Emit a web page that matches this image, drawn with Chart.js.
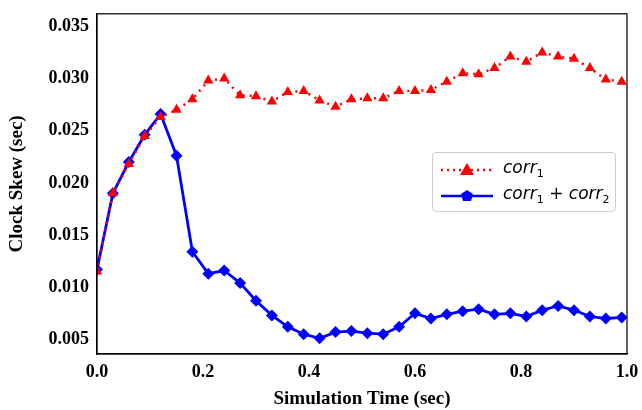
<!DOCTYPE html>
<html>
<head>
<script src="https://cdn.jsdelivr.net/npm/chart.js"></script>
<style>
  body { margin: 0; background: #fff; }
  #wrap { position: relative; width: 642px; height: 410px; }
  #legend { position: absolute; left: 432px; top: 152px; width: 184px; height: 60px; border: 1px solid #ccc; border-radius: 4px; background: rgba(255,255,255,0.8); font-family: "DejaVu Sans", sans-serif; font-style: italic; font-size: 17px; box-sizing: border-box; }
  .row { position: absolute; left: 70px; }
  .row sub { font-size: 11px; font-style: normal; }
</style>
</head>
<body>
<div id="wrap">
  <canvas id="chart" width="642" height="410"></canvas>
  <div id="legend">
    <svg style="position:absolute;left:6px;top:4px" width="60" height="52">
      <line x1="2" y1="13" x2="54" y2="13" stroke="red" stroke-width="2.5" stroke-dasharray="2,4"/>
      <polygon points="28,6 35,18 21,18" fill="red"/>
      <line x1="2" y1="39" x2="54" y2="39" stroke="blue" stroke-width="2.5"/>
      <polygon points="28,33 34,37 32,44 24,44 22,37" fill="blue"/>
    </svg>
    <div class="row" style="top:4px">corr<sub>1</sub></div>
    <div class="row" style="top:30px">corr<sub>1</sub> + corr<sub>2</sub></div>
  </div>
</div>
<script>
// simulation time (sec)
const times = [0.00, 0.03, 0.06, 0.09, 0.12, 0.15, 0.18, 0.21, 0.24, 0.27, 0.30, 0.33,
               0.36, 0.39, 0.42, 0.45, 0.48, 0.51, 0.54, 0.57, 0.60, 0.63, 0.66, 0.69,
               0.72, 0.75, 0.78, 0.81, 0.84, 0.87, 0.90, 0.93, 0.96, 0.99];
const corr1 = [0.0115, 0.0190, 0.0218, 0.0245, 0.0263, 0.0270, 0.0280, 0.0298, 0.0300, 0.0284, 0.0283, 0.0278,
               0.0287, 0.0288, 0.0279, 0.0273, 0.0280, 0.0281, 0.0281, 0.0288, 0.0288, 0.0289, 0.0297, 0.0305,
               0.0304, 0.0310, 0.0321, 0.0316, 0.0325, 0.0321, 0.0319, 0.0310, 0.0299, 0.0297];
const corr12 = [0.0117, 0.0190, 0.0220, 0.0246, 0.0266, 0.0226, 0.0134, 0.0113, 0.0116, 0.0104, 0.0087, 0.0073,
                0.0062, 0.0055, 0.0051, 0.0057, 0.0058, 0.0056, 0.0055, 0.0062, 0.0075, 0.0070, 0.0074, 0.0077,
                0.0079, 0.0074, 0.0075, 0.0072, 0.0078, 0.0082, 0.0078, 0.0072, 0.0070, 0.0071];
const xTicks = [0.0, 0.2, 0.4, 0.6, 0.8, 1.0];
const yTicks = [0.005, 0.010, 0.015, 0.020, 0.025, 0.030, 0.035];

const font = { family: '"Liberation Serif", serif', weight: 'bold', size: 18 };

new Chart(document.getElementById('chart'), {
    type: 'line',
    data: {
        datasets: [
            { label: 'corr1', data: times.map((t, i) => ({ x: t, y: corr1[i] })),
              borderColor: 'red', backgroundColor: 'red', borderWidth: 2.5, borderDash: [2, 5],
              pointStyle: 'triangle', pointRadius: 6, pointBorderWidth: 0 },
            { label: 'corr1 + corr2', data: times.map((t, i) => ({ x: t, y: corr12[i] })),
              borderColor: 'blue', backgroundColor: 'blue', borderWidth: 2.8,
              pointStyle: 'rectRot', pointRadius: 6, pointBorderWidth: 0 }
        ]
    },
    options: {
        responsive: false,
        animation: false,
        layout: { padding: { top: 10, right: 15, left: 6 } },
        plugins: { legend: { display: false }, tooltip: { enabled: false } },
        scales: {
            x: {
                type: 'linear', min: 0, max: 1,
                afterBuildTicks: s => { s.ticks = xTicks.map(v => ({ value: v })); },
                afterFit: s => { s.height = 56; },
                ticks: { color: '#000', font, callback: v => v.toFixed(1), maxRotation: 0 },
                grid: { display: false, drawTicks: true, tickLength: 5, tickColor: '#000' },
                border: { color: '#000', width: 1.2 },
                title: { display: true, text: 'Simulation Time (sec)', color: '#000', font: { ...font, size: 19 }, padding: 0 }
            },
            y: {
                min: 0.0036, max: 0.0362,
                afterBuildTicks: s => { s.ticks = yTicks.map(v => ({ value: v })); },
                afterFit: s => { s.width = 91; },
                ticks: { color: '#000', font, callback: v => v.toFixed(3) },
                grid: { display: false, drawTicks: true, tickLength: 5, tickColor: '#000' },
                border: { color: '#000', width: 1.2 },
                title: { display: true, text: 'Clock Skew (sec)', color: '#000', font: { ...font, size: 19 }, padding: 0 }
            }
        }
    },
    plugins: [{
        id: 'frame',
        afterDraw(c) {
            const { ctx, chartArea: a } = c;
            ctx.save();
            ctx.strokeStyle = '#000';
            ctx.lineWidth = 1.2;
            ctx.strokeRect(a.left, a.top, a.right - a.left, a.bottom - a.top);
            ctx.restore();
        }
    }]
});
</script>
</body>
</html>
